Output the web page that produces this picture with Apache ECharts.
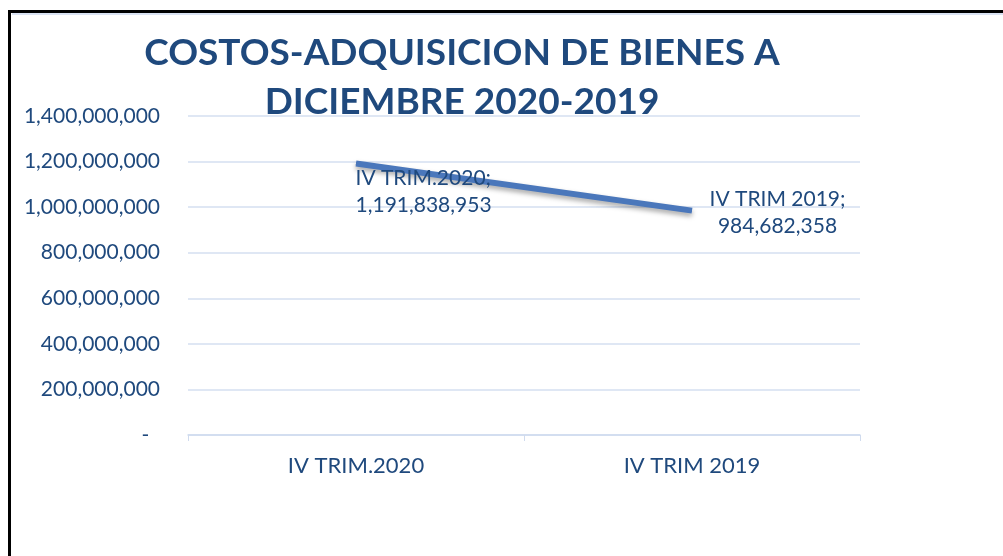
<!DOCTYPE html>
<html>
<head>
<meta charset="utf-8">
<script src="https://cdn.jsdelivr.net/npm/echarts@6/dist/echarts.min.js"></script>
<style>
  html, body { margin: 0; padding: 0; background: #fff; }
  #main { width: 1003px; height: 556px; }
</style>
</head>
<body>
<div id="main"></div>
<script>
const categories = ['IV TRIM.2020', 'IV TRIM 2019']
const values = [1191838953, 984682358]
const yTicks = [0, 1400000000, 200000000] // min, max, interval

const blue = '#1F497D'
const fmt = v => v === 0 ? '-' : v.toLocaleString('en-US')

const myChart = echarts.init(document.getElementById('main'))

const labelPos = [[0, 2, 'left'], [86, -24, 'center']]

const option = {
    animation: false,
    textStyle: { fontFamily: 'Lato' },
    title: {
        text: 'COSTOS-ADQUISICION DE BIENES A\nDICIEMBRE 2020-2019',
        left: 457,
        top: 24,
        textAlign: 'center',
        textStyle: {
            color: blue,
            fontSize: 37,
            fontWeight: 'bold',
            lineHeight: 49,
            fontFamily: 'Lato'
        }
    },
    graphic: [{
        type: 'rect',
        shape: { x: 9.5, y: 11.5, width: 1100, height: 700 },
        style: { fill: 'none', stroke: '#000', lineWidth: 3 },
        z: 10
    }, {
        type: 'line',
        shape: { x1: 12, y1: 14, x2: 1003, y2: 14 },
        style: { stroke: '#dae3f3', lineWidth: 2 }
    }],
    grid: { left: 188, right: 143, top: 116, bottom: 121 },
    xAxis: {
        type: 'category',
        data: categories,
        axisLine: { lineStyle: { color: '#d0dbee', width: 1.5 } },
        axisTick: { show: true, length: 6, lineStyle: { color: '#d0dbee' } },
        axisLabel: { color: blue, fontSize: 22, margin: 20 }
    },
    yAxis: {
        type: 'value',
        min: yTicks[0],
        max: yTicks[1],
        interval: yTicks[2],
        axisLine: { show: false },
        axisTick: { show: false },
        splitLine: { lineStyle: { color: '#d5dff0', width: 1.5 } },
        axisLabel: { color: blue, fontSize: 21, margin: 28, formatter: v => v === 0 ? '-  ' : fmt(v) }
    },
    series: [{
        name: 'Lineal',
        type: 'line',
        data: values,
        symbol: 'none',
        lineStyle: { color: '#4a77bb', width: 3, type: [6, 3] },
        z: 1
    }, {
        name: 'Costos',
        type: 'line',
        data: values.map((v, i) => ({
            value: v,
            label: {
                show: true,
                position: [labelPos[i][0], labelPos[i][1]],
                align: labelPos[i][2],
                formatter: p => categories[p.dataIndex] + ';\n' + fmt(p.value)
            }
        })),
        symbol: 'circle',
        symbolSize: 1,
        itemStyle: { color: 'rgba(0,0,0,0)' },
        lineStyle: {
            color: '#4a77bb',
            width: 6,
            shadowColor: 'rgba(0,0,0,0.35)',
            shadowBlur: 5,
            shadowOffsetY: 3
        },
        label: {
            color: blue,
            fontSize: 21,
            lineHeight: 27,
            verticalAlign: 'top'
        },
        z: 2
    }]
}

myChart.setOption(option)
</script>
</body>
</html>
